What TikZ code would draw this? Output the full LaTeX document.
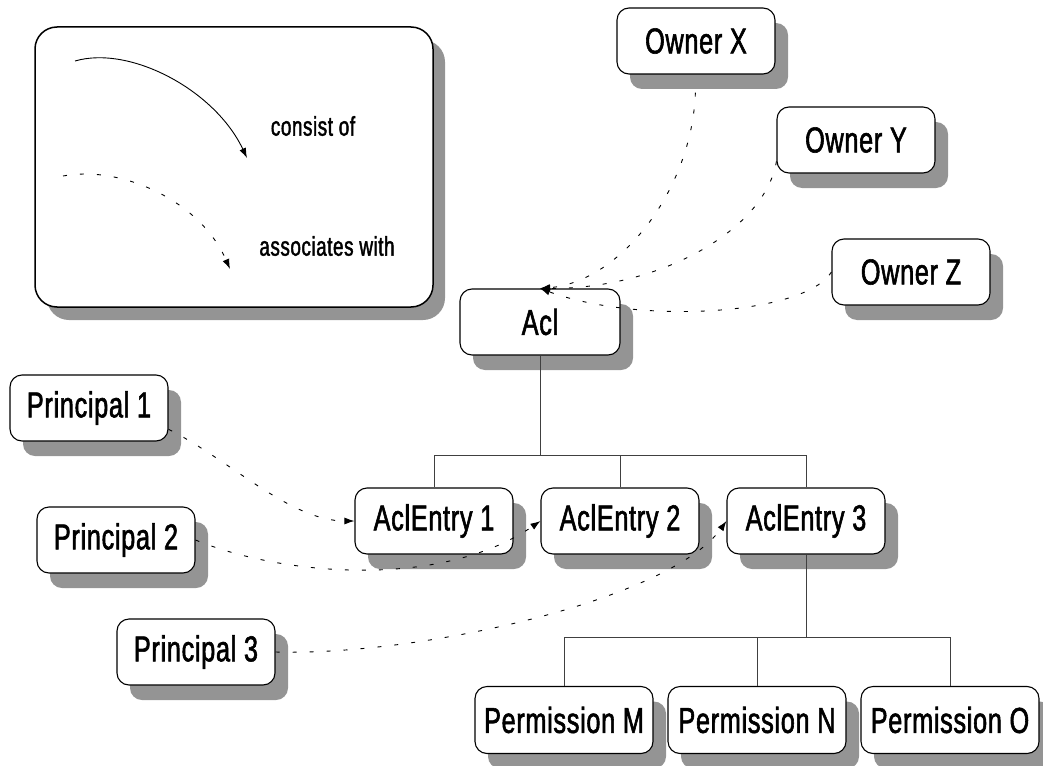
\documentclass[tikz,border=0pt]{standalone}
\usepackage{fontspec}
\setmainfont[FakeStretch=0.7,FakeBold=1.6,LetterSpace=2]{Liberation Sans}
\usetikzlibrary{arrows.meta,shadows}
\begin{document}
\begin{tikzpicture}[x=1pt,y=-1pt,
  box/.style={draw=black, line width=1.1pt, rounded corners=12pt, fill=white,
    minimum width=158pt, minimum height=66pt, inner sep=0pt,
    font=\fontsize{36}{40}\selectfont,
    general shadow={fill=black!42, shadow xshift=13pt, shadow yshift=-15pt}},
  wide/.style={box, minimum width=178pt, minimum height=67pt},
  legendbox/.style={draw=black, line width=1.5pt, rounded corners=22pt, fill=white,
    minimum width=398pt, minimum height=280pt, inner sep=0pt,
    general shadow={fill=black!42, shadow xshift=12pt, shadow yshift=-13pt}},
  legendtext/.style={font=\fontsize{27}{30}\selectfont, inner sep=0pt},
  tree/.style={draw=black!75, line width=0.9pt},
  consist/.style={draw=black, line width=0.9pt, -{Latex[length=10pt,width=7pt]}},
  assoc/.style={draw=black, line width=0.9pt, dash pattern=on 4pt off 13pt,
    -{Latex[length=10pt,width=7pt]}},
]
\useasboundingbox (0,0) rectangle (1043,765);

% legend
\node[legendbox] (legend) at (234,167) {};
\coordinate (c0) at (75,61);
\coordinate (c1) at (247,158);
\coordinate (a0) at (63,176);
\coordinate (a1) at (230,269);
\draw[consist] (c0) .. controls (130,45) and (215,90) .. (c1);
\draw[assoc] (a0) .. controls (120,165) and (200,200) .. (a1);
\node[legendtext] (lconsist) at (313,126) {consist of};
\node[legendtext] (lassoc) at (327,246) {associates with};

% owners and the Acl
\node[box] (ownerX) at (696,41) {Owner X};
\node[box] (ownerY) at (856,140) {Owner Y};
\node[box] (ownerZ) at (911,272) {Owner Z};
\node[box, minimum width=160pt] (acl) at (540,322) {Acl};

% principals
\node[box] (p1) at (89,408) {Principal 1};
\node[box] (p2) at (116,540) {Principal 2};
\node[box] (p3) at (196,652) {Principal 3};

% entries
\node[box] (e1) at (434,521) {AclEntry 1};
\node[box] (e2) at (620,521) {AclEntry 2};
\node[box] (e3) at (806,521) {AclEntry 3};

% permissions
\node[wide] (pm) at (564,720) {Permission M};
\node[wide] (pn) at (757,720) {Permission N};
\node[wide] (po) at (950,720) {Permission O};

% composition trees
\coordinate (bus1) at (540,455);
\coordinate (bus2) at (806,637);
\draw[tree] (acl.south) -- (bus1);
\draw[tree] (e1.north) |- (e3.north |- bus1) -- (e3.north);
\draw[tree] (e2.north) -- (e2.north |- bus1);
\draw[tree] (e3.south) -- (bus2);
\draw[tree] (pm.north) |- (po.north |- bus2) -- (po.north);
\draw[tree] (pn.north) -- (pn.north |- bus2);

% associations
\draw[assoc, shorten <=18pt] (ownerX.south) .. controls (692,190) and (620,282) .. (acl.north);
\draw[assoc] (ownerY.195) .. controls (765,230) and (660,289) .. (acl.north);
\draw[assoc] (ownerZ.west) .. controls (805,315) and (640,325) .. (acl.north);
\draw[assoc] (p1.-15) .. controls (230,460) and (290,521) .. (e1.west);
\draw[assoc] (p2.east) .. controls (280,575) and (440,590) .. (e2.west);
\draw[assoc] (p3.east) .. controls (420,656) and (670,600) .. (e3.west);
\end{tikzpicture}
\end{document}
